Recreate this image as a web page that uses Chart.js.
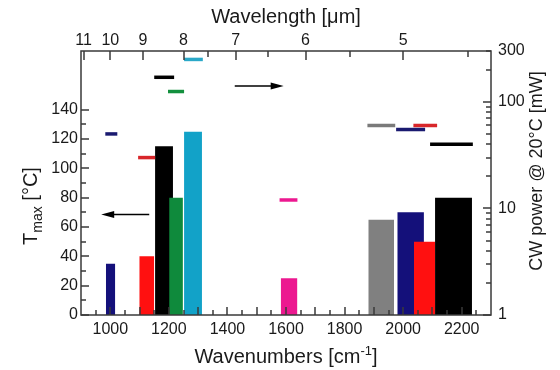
<!DOCTYPE html>
<html>
<head>
<meta charset="utf-8">
<script src="https://cdn.jsdelivr.net/npm/chart.js@4/dist/chart.umd.min.js"></script>
<style>
  body { margin: 0; background: #fff; }
  #chart { display: block; }
</style>
</head>
<body>
<canvas id="chart" width="560" height="370"></canvas>
<script>
// Tmax bars (left axis), spectral extent in cm-1
const barLo = [985, 1099, 1153, 1201, 1252, 1582, 1881, 1980, 2037, 2109];
const barHi = [1017, 1150, 1214, 1248, 1313, 1639, 1969, 2071, 2109, 2235];
const tmax = [35, 40, 115, 80, 125, 25, 65, 70, 50, 80];
const barColors = ["#14107a", "#ff1010", "#000000", "#0f8a3c", "#12a2c8", "#ec1890", "#808080", "#14107a", "#ff1010", "#000000"];

// CW power dashes (right axis, log)
const dashLo = [983, 1095, 1150, 1197, 1252, 1578, 1878, 1976, 2035, 2092];
const dashHi = [1024, 1153, 1218, 1252, 1316, 1639, 1973, 2075, 2116, 2238];
const cwPower = [50, 30, 170, 125, 250, 12, 60, 55, 60, 40];
const dashColors = ["#1a1a70", "#d8262a", "#000000", "#13903e", "#2aa8c8", "#ec1890", "#7a7a7a", "#1a1a70", "#d8262a", "#000000"];

// axis ticks
const xTickVals = [1000, 1200, 1400, 1600, 1800, 2000, 2200];
const xMinorTicks = [950, 1000, 1050, 1100, 1150, 1200, 1250, 1300, 1350, 1400, 1450, 1500, 1550, 1600,
  1650, 1700, 1750, 1800, 1850, 1900, 1950, 2000, 2050, 2100, 2150, 2200, 2250];
const wlLabels = [11, 10, 9, 8, 7, 6, 5];
const wlMinor = [7.5, 6.5, 5.5, 4.5];
const yTickVals = [0, 20, 40, 60, 80, 100, 120, 140];
const yMinorTicks = [10, 30, 50, 70, 90, 110, 130];
const pTickVals = [1, 10, 100, 300];
const pMinorTicks = [2, 3, 4, 5, 6, 7, 8, 9, 20, 30, 40, 50, 60, 70, 80, 90, 200];

// arrows pointing to the axis each series belongs to
const arrowFromX = [1133, 1425];
const arrowToX = [969, 1592];
const arrowY = [68.6, 141];
const arrowAxis = ["y", "y2"];

const FONT = "'Liberation Sans', Arial, Helvetica, sans-serif";
const TEXT = "#1a1a1a";
const AXIS = "#3a3a3a";

const datasets = [];
tmax.forEach((h, i) => {
  datasets.push({
    data: [{ x: barLo[i], y: h }, { x: barHi[i], y: h }],
    xAxisID: "x",
    yAxisID: "y",
    showLine: true,
    fill: "origin",
    backgroundColor: barColors[i],
    borderColor: "rgba(0,0,0,0)",
    borderWidth: 0,
    pointRadius: 0,
    order: tmax.length - i,
  });
});
cwPower.forEach((p, i) => {
  datasets.push({
    data: [{ x: dashLo[i], y: p }, { x: dashHi[i], y: p }],
    xAxisID: "x",
    yAxisID: "y2",
    showLine: true,
    fill: false,
    borderColor: dashColors[i],
    borderWidth: 3.5,
    borderCapStyle: "butt",
    pointRadius: 0,
    order: -1,
  });
});

function drawRich(ctx, segs, cx, cy, rot) {
  ctx.save();
  ctx.translate(cx, cy);
  ctx.rotate(rot);
  let w = 0;
  segs.forEach((s) => {
    ctx.font = `${s.size}px ${FONT}`;
    s.w = ctx.measureText(s.text).width;
    w += s.w;
  });
  let x = -w / 2;
  ctx.fillStyle = TEXT;
  ctx.textBaseline = "alphabetic";
  ctx.textAlign = "left";
  segs.forEach((s) => {
    ctx.font = `${s.size}px ${FONT}`;
    ctx.fillText(s.text, x, s.dy || 0);
    x += s.w;
  });
  ctx.restore();
}

// inward tick marks as small rectangles
function tickRects(chart) {
  const { left, right, top, bottom } = chart.chartArea;
  const sx = chart.scales.x, sy = chart.scales.y, sp = chart.scales.y2;
  const w = 1.5;
  const out = [];
  xMinorTicks.forEach((v) => {
    const px = Math.round(sx.getPixelForValue(v));
    const len = v % 100 === 0 ? 8 : 5;
    out.push([px - w / 2, bottom - len, w, len]);
  });
  wlLabels.concat(wlMinor).forEach((l) => {
    const px = Math.round(sx.getPixelForValue(10000 / l));
    const len = wlMinor.includes(l) ? 6 : 9;
    out.push([px - w / 2, top, w, len]);
  });
  yTickVals.concat(yMinorTicks).forEach((v) => {
    const py = Math.round(sy.getPixelForValue(v));
    const len = yMinorTicks.includes(v) ? 5 : 8;
    out.push([left, py - w / 2, len, w]);
  });
  pTickVals.concat(pMinorTicks).forEach((v) => {
    const py = Math.round(sp.getPixelForValue(v));
    const len = v === 1 || v === 10 || v === 100 ? 8 : 5;
    out.push([right - len, py - w / 2, len, w]);
  });
  return out;
}

const framePlugin = {
  id: "frame",
  afterDraw(chart) {
    const ctx = chart.ctx;
    const { left, right, top, bottom } = chart.chartArea;
    const sx = chart.scales.x;
    ctx.save();
    ctx.strokeStyle = AXIS;
    ctx.lineWidth = 1.5;
    ctx.strokeRect(left, top, right - left, bottom - top);
    ctx.fillStyle = AXIS;
    tickRects(chart).forEach((r) => ctx.fillRect(r[0], r[1], r[2], r[3]));

    // arrows
    ctx.strokeStyle = "#000";
    ctx.fillStyle = "#000";
    ctx.lineWidth = 1.5;
    arrowY.forEach((yv, i) => {
      const py = chart.scales[arrowAxis[i]].getPixelForValue(yv);
      const x0 = sx.getPixelForValue(arrowFromX[i]);
      const x1 = sx.getPixelForValue(arrowToX[i]);
      const dir = Math.sign(x1 - x0);
      ctx.beginPath();
      ctx.moveTo(x0, py);
      ctx.lineTo(x1 - dir * 10, py);
      ctx.stroke();
      ctx.beginPath();
      ctx.moveTo(x1, py);
      ctx.lineTo(x1 - dir * 13, py - 3.5);
      ctx.lineTo(x1 - dir * 13, py + 3.5);
      ctx.closePath();
      ctx.fill();
    });
    ctx.restore();

    // axis titles
    const mid = (left + right) / 2;
    drawRich(ctx, [{ text: "Wavenumbers [cm", size: 20 }, { text: "-1", size: 13, dy: -8 }, { text: "]", size: 20 }], mid, 363, 0);
    drawRich(ctx, [{ text: "Wavelength [\u03bcm]", size: 20 }], mid, 23, 0);
    drawRich(ctx, [{ text: "T", size: 20 }, { text: "max", size: 14, dy: 5 }, { text: " [°C]", size: 20 }], 37, 206, -Math.PI / 2);
    drawRich(ctx, [{ text: "CW power @ 20°C [mW]", size: 18 }], 542, 171, -Math.PI / 2);
  },
};

const tickFont = { family: FONT, size: 16 };
const noGrid = { display: false, drawTicks: false };

new Chart(document.getElementById("chart"), {
  type: "scatter",
  data: { datasets: datasets },
  options: {
    responsive: false,
    animation: false,
    devicePixelRatio: 1,
    layout: { padding: 0 },
    plugins: { legend: { display: false }, tooltip: { enabled: false } },
    scales: {
      x: {
        type: "linear",
        position: "bottom",
        min: 900,
        max: 2300,
        grid: noGrid,
        border: { display: false },
        ticks: { font: tickFont, color: TEXT, padding: 5, maxRotation: 0, autoSkip: false, callback: (v) => String(v) },
        afterBuildTicks: (s) => { s.ticks = xTickVals.map((v) => ({ value: v })); },
        afterFit: (s) => { s.height = 55; },
      },
      x2: {
        type: "linear",
        position: "top",
        min: 900,
        max: 2300,
        grid: noGrid,
        border: { display: false },
        ticks: {
          font: tickFont, color: TEXT, padding: 1, maxRotation: 0, autoSkip: false,
          callback: (v) => String(Math.round(10000 / v)),
        },
        afterBuildTicks: (s) => { s.ticks = wlLabels.map((l) => ({ value: 10000 / l })); },
        afterFit: (s) => { s.height = 51; },
      },
      y: {
        type: "linear",
        position: "left",
        min: 0,
        max: 180,
        grid: noGrid,
        border: { display: false },
        ticks: { font: tickFont, color: TEXT, padding: 3 },
        afterBuildTicks: (s) => { s.ticks = yTickVals.map((v) => ({ value: v })); },
        afterFit: (s) => { s.width = 81; },
      },
      y2: {
        type: "logarithmic",
        position: "right",
        min: 1,
        max: 300,
        grid: noGrid,
        border: { display: false },
        ticks: { font: tickFont, color: TEXT, padding: 7, callback: (v) => String(v) },
        afterBuildTicks: (s) => { s.ticks = pTickVals.map((v) => ({ value: v })); },
        afterFit: (s) => { s.width = 69; },
      },
    },
  },
  plugins: [framePlugin],
});
</script>
</body>
</html>
